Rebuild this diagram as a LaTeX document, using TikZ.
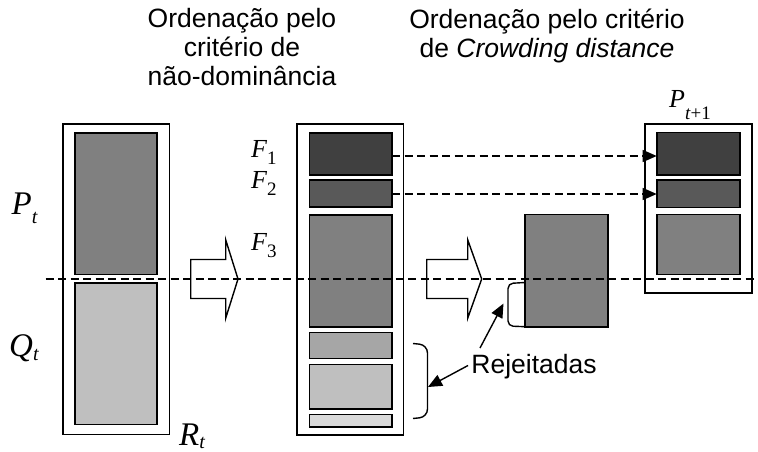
\documentclass[tikz,border=0pt]{standalone}
\usepackage{fontspec}
\setmainfont{Liberation Sans}
\newfontfamily\tms{Liberation Serif}
\usetikzlibrary{arrows.meta}
\newcommand\mylab[5]{{\fontsize{#3}{#3}\selectfont\tms\itshape #1}\raisebox{-#5}{\fontsize{#4}{#4}\selectfont\tms #2}}
\definecolor{cA}{HTML}{404040}
\definecolor{cB}{HTML}{595959}
\definecolor{cC}{HTML}{808080}
\definecolor{cD}{HTML}{A6A6A6}
\definecolor{cE}{HTML}{BFBFBF}
\definecolor{cF}{HTML}{D9D9D9}
\tikzset{
  frame/.style={draw, line width=1.6pt, fill=white, inner sep=0pt, outer sep=0pt, anchor=north west},
  blk/.style={draw, line width=1.6pt, inner sep=0pt, outer sep=0pt, anchor=north west},
  dsh/.style={line width=1.5pt, dash pattern=on 8pt off 4.5pt},
  tip/.style={-{Triangle[length=14pt,width=12pt]}},
  title/.style={align=center, inner sep=0pt, font=\fontsize{26.5pt}{29pt}\selectfont},
  lab/.style={anchor=base west, inner sep=0pt},
  barrow/.style={draw, line width=1.4pt, fill=white, line join=miter}
}
\begin{document}
\begin{tikzpicture}[x=1pt, y=-1pt]
\useasboundingbox (0,0) rectangle (758,452);
% titles
\node[title, anchor=north] (T1) at (242,8.5) {Ordenação pelo\\critério de\\não-dominância};
\node[title, anchor=north] (T2) at (547,8.5) {Ordenação pelo critério\\de \textit{Crowding distance}};
% R_t column
\node[frame, minimum width=106.6pt, minimum height=310.3pt] (Rt) at (62.7,124) {};
\node[blk, fill=cC, minimum width=82.3pt, minimum height=141.6pt] (Pblk) at (74.7,132.7) {};
\node[blk, fill=cE, minimum width=82.3pt, minimum height=141.6pt] (Qblk) at (74.7,282.7) {};
% middle column
\node[frame, minimum width=106.6pt, minimum height=311pt] (Mid) at (296.7,124) {};
\node[blk, fill=cA, minimum width=82.7pt, minimum height=42.3pt] (F1m) at (309.3,132.7) {};
\node[blk, fill=cB, minimum width=82.7pt, minimum height=26.7pt] (F2m) at (309.3,180) {};
\node[blk, fill=cC, minimum width=82.7pt, minimum height=111.7pt] (F3m) at (309.3,215) {};
\node[blk, fill=cD, minimum width=82.7pt, minimum height=26pt] (B4) at (309.3,332.3) {};
\node[blk, fill=cE, minimum width=82.7pt, minimum height=44.4pt] (B5) at (309.3,364.3) {};
\node[blk, fill=cF, minimum width=82.7pt, minimum height=12.4pt] (B6) at (309.3,414.3) {};
% extracted F3
\node[blk, fill=cC, minimum width=82.7pt, minimum height=112.4pt] (Ext) at (525,214.3) {};
% P_{t+1}
\node[frame, minimum width=106.7pt, minimum height=168.7pt] (Pn) at (645,124) {};
\node[blk, fill=cA, minimum width=83.3pt, minimum height=42.7pt] (F1r) at (656.7,132.3) {};
\node[blk, fill=cB, minimum width=83.3pt, minimum height=27.3pt] (F2r) at (656.7,180) {};
\node[blk, fill=cC, minimum width=83.3pt, minimum height=60pt] (F3r) at (656.7,214.3) {};
% block arrows
\coordinate (A1) at (190.7,279);
\draw[barrow] (A1) ++(0,-19.5) -- ++(35,0) -- ++(0,-19.7) -- (238,279) -- (225.7,318.2) -- ++(0,-19.7) -- ++(-35,0) -- cycle;
\coordinate (A2) at (426.7,279);
\draw[barrow] (A2) ++(0,-19.5) -- ++(41,0) -- ++(0,-19.7) -- (481.7,279) -- (467.7,318.2) -- ++(0,-19.7) -- ++(-41,0) -- cycle;
% labels
\node[lab] (Pt) at (11.5,214) {\mylab{P}{\textit{t}}{33pt}{20pt}{9pt}};
\node[lab] (Qt) at (9,356) {\mylab{Q}{\textit{t}}{33pt}{20pt}{4pt}};
\node[lab] (RtL) at (179,445) {\mylab{R}{\textit{t}}{33pt}{20pt}{3pt}};
\node[lab] (F1L) at (251,157) {\mylab{F}{1}{26pt}{19pt}{7pt}};
\node[lab] (F2L) at (251,188) {\mylab{F}{2}{26pt}{19pt}{7pt}};
\node[lab] (F3L) at (251,250) {\mylab{F}{3}{26pt}{19pt}{7pt}};
\node[lab] (PnL) at (669,107) {\mylab{P}{\textit{t}+1}{26pt}{19pt}{12pt}};
% dashed transfer arrows
\draw[dsh, tip] (F1m.east |- 0,156) coordinate (s1) -- (F1r.west |- s1);
\draw[dsh, tip] (F2m.east |- 0,194) coordinate (s2) -- (F2r.west |- s2);
% small bracket and brace
\coordinate (sbt) at (525,282.5);
\coordinate (sbb) at (525,326.7);
\draw[line width=1.4pt, rounded corners=5pt] (sbt) -- (508,283.5) -- (508,326) -- (sbb);
\coordinate (brt) at (413,343.5);
\coordinate (brb) at (413,418.5);
\draw[line width=1.4pt, rounded corners=8pt] (brt) -- (427.5,345) -- (427.5,417) -- (brb);
% Rejeitadas
\node[inner sep=0pt, font=\fontsize{26.5pt}{29pt}\selectfont] (rej) at (534,366.7) {Rejeitadas};
\coordinate (t1) at (428,387);
\coordinate (t2) at (503.5,303.5);
\coordinate (s3) at (468,365.5);
\coordinate (s4) at (480,348);
\draw[line width=1.4pt, tip] (s3) -- (t1);
\draw[line width=1.4pt, tip] (s4) -- (t2);
% horizontal dashed line
\coordinate (dl) at (45.7,279);
\coordinate (dr) at (755,279);
\draw[dsh] (dl) -- (dr);
\end{tikzpicture}
\end{document}
